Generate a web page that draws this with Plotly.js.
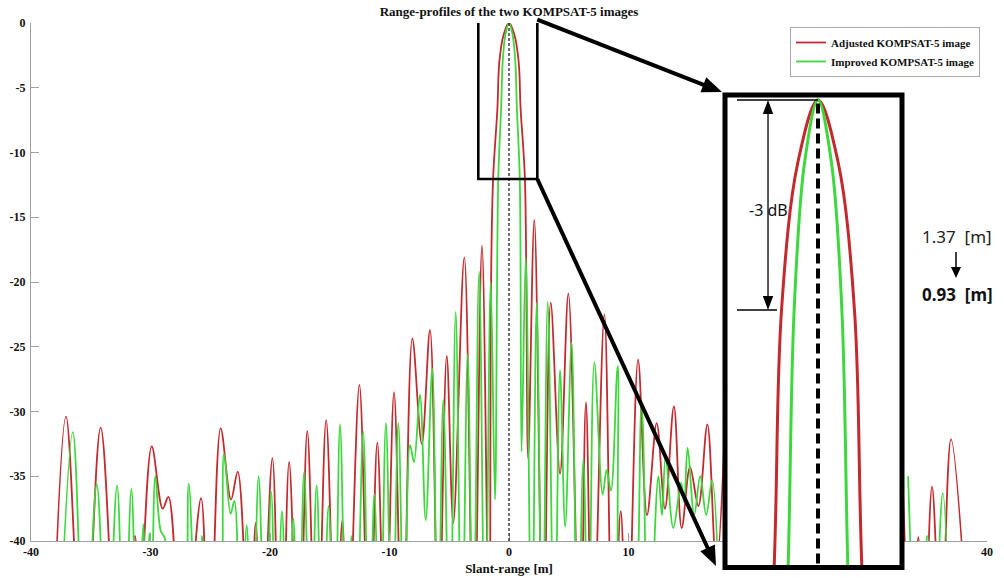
<!DOCTYPE html>
<html>
<head>
<meta charset="utf-8">
<script src="https://cdn.plot.ly/plotly-3.0.1.min.js"></script>
<style>
  html, body { margin: 0; padding: 0; background: #fff; }
  #chart { width: 1004px; height: 578px; }
</style>
</head>
<body>
<div id="chart"></div>
<script>
// ---- data (slant range [m], amplitude [dB]) ----
// null = part of the profile hidden behind the zoom inset
const adjustedX = [
  -38.3, -37.07, -35.6, -34.17, -32.6, -31.3, -31.0, -29.9, -28.98, -28.5, -27.3,
  -25.77, -25.1, -24.13, -23.26, -22.7, -21.7, -21.2, -20.7, -19.8, -19.1, -18.4,
  -17.6, -16.88, -16.1, -15.3, -14.5, -13.95, -13.5, -12.52, -11.7, -11.02, -10.35,
  -9.62, -8.9, -8.09, -7.3, -6.61, -5.9, -5.21, -4.66, -3.74, -2.95, -2.26, -1.65,
  -1.5, -1.33, -0.97, -0.81, -0.45, 0, 0.45, 0.81, 0.97, 1.33,
  1.6, 2.12, 2.87, 3.49, 4.27, 4.97, 5.94, 6.44, 7.0, 7.98, 8.7, 9.35, 9.9,
  10.8, 11.55, 12.36, 13.05, 13.8, 14.45, 15.15, 15.85, 16.6, 17.35, 18.2,
  25.0,
  32.8, 33.7, 34.25, 34.7, 35.4, 36.15, 36.99, 38.7
];
const adjustedY = [
  -52, -30.4, -52, -31.25, -52, -39.6, -48, -32.7, -37.5, -36.6, -50,
  -36.7, -52, -31.3, -36.8, -34.65, -50, -38.6, -50, -33.6, -55, -33.9,
  -52, -31.5, -52, -30.66, -50, -38.4, -50, -27.95, -50, -32.4, -50,
  -28.5, -50, -24.35, -32.5, -23.7, -48, -25.7, -38.6, -18.1, -50, -17.2, -50,
  -20, -12, -6.6, -3, -0.9, 0, -0.9, -3, -6.6, -12,
  -33.6, -15.2, -50, -21.6, -34.8, -20.9, -50, -29.3, -50, -22.5, -50, -37.7, -50,
  -26.0, -38, -30.9, -37.5, -29.6, -39, -34.3, -37.3, -31.0, -42, -28,
  null,
  -31, -50, -39.7, -50, -35.8, -48, -32.15, -52
];

const improvedX = [
  -37.8, -36.5, -35.5, -34.5, -33.65, -32.8, -32.2, -31.6, -31.1, -30.6, -30.35,
  -30.1, -29.9, -29.6, -29.15, -28.8, -28.5, -27.4, -26.8, -26.1, -25.7, -25.3,
  -24.6, -23.85, -23.3, -22.98, -22.45, -21.95, -21.5, -20.95, -20.4, -19.9, -19.45,
  -19.0, -18.5, -18.05, -17.6, -17.15, -16.6, -16.1, -15.6, -15.1, -14.6, -14.14,
  -13.6, -13.2, -12.8, -12.2, -11.7, -11.27, -10.8, -10.3, -9.78, -9.26, -8.75,
  -8.28, -7.95, -7.45, -6.97, -6.42, -5.95, -5.5, -4.95, -4.46, -3.95, -3.46,
  -3.0, -2.5, -2.0, -1.53, -1.17,
  -0.9, -0.66, -0.53, -0.3, 0, 0.3, 0.53, 0.66, 0.9,
  1.05, 1.4, 1.9, 2.32, 2.8, 3.24, 3.8, 4.27, 4.7, 5.24, 5.75, 6.22, 6.65,
  7.14, 7.84, 8.17, 8.53, 9.1, 9.65, 10.1, 11.1, 11.66, 12.5, 12.8, 13.1, 13.75,
  14.4, 14.65, 14.95, 15.5, 16.0, 16.5, 17.0, 17.6,
  25.0,
  33.4, 34.2, 35.0, 35.5, 36.3, 37.0
];
const improvedY = [
  -52, -31.6, -50, -35.6, -50, -35.7, -50, -36.0, -48, -38.7, -46,
  -39.4, -45, -35.0, -39.2, -39.8, -48, -50, -35.6, -50, -39.6, -50,
  -50, -33.3, -37.9, -36.9, -50, -38.8, -50, -35.0, -50, -36.2, -50,
  -37.7, -50, -38.25, -50, -34.7, -50, -35.7, -50, -37.3, -50, -31.0,
  -50, -39.6, -50, -31.56, -50, -36.4, -50, -30.9, -50, -30.9, -50,
  -32.6, -33.9, -28.7, -38.4, -26.7, -50, -29.1, -50, -22.3, -50, -25.6,
  -50, -19.2, -50, -20.0, -36.8,
  -12, -6.6, -3, -0.9, 0, -0.9, -3, -6.6, -12,
  -33.1, -18.1, -50, -21.6, -50, -21.5, -50, -26.8, -38.9, -24.7, -50, -33.75, -50,
  -26.2, -36.4, -34.5, -36.1, -26.5, -50, -50, -29.6, -50, -35.0, -38, -33.5, -39,
  -35.5, -37, -32.8, -38, -35.0, -38, -35.3, -45,
  null,
  -35.0, -50, -39.6, -50, -36.3, -52
];

const seriesNames = ['Adjusted KOMPSAT-5 image', 'Improved KOMPSAT-5 image'];
const seriesColors = ['#c22a2f', '#3ed83e'];
const xTicks = [-40, -30, -20, -10, 0, 10, 20, 30, 40];
const yTicks = [0, -5, -10, -15, -20, -25, -30, -35, -40];

// ---- layout geometry ----
const W = 1004, H = 578;
const M = {l: 31, r: 17, t: 23, b: 5};
const PW = W - M.l - M.r, PH = H - M.t - M.b;
const px = v => (v - M.l) / PW;          // pixel x -> paper x
const py = v => (H - M.b - v) / PH;      // pixel y -> paper y
const P = (x, y) => px(x).toFixed(5) + ',' + py(y).toFixed(5);

const serif = 'Liberation Serif, Times New Roman, serif';
const sans = 'Noto Sans, Open Sans, sans-serif';

const traces = [
  {x: adjustedX, y: adjustedY, name: seriesNames[0], type: 'scatter', mode: 'lines', connectgaps: false,
   line: {color: seriesColors[0], width: 1.8, shape: 'spline', smoothing: 1}, xaxis: 'x', yaxis: 'y'},
  {x: improvedX, y: improvedY, name: seriesNames[1], type: 'scatter', mode: 'lines', connectgaps: false,
   line: {color: seriesColors[1], width: 1.8, shape: 'spline', smoothing: 1}, xaxis: 'x', yaxis: 'y'},
  {x: adjustedX, y: adjustedY, name: seriesNames[0], type: 'scatter', mode: 'lines', showlegend: false,
   hoverinfo: 'skip', line: {color: seriesColors[0], width: 3, shape: 'spline', smoothing: 1}, xaxis: 'x2', yaxis: 'y2'},
  {x: improvedX, y: improvedY, name: seriesNames[1], type: 'scatter', mode: 'lines', showlegend: false,
   hoverinfo: 'skip', line: {color: seriesColors[1], width: 3, shape: 'spline', smoothing: 1}, xaxis: 'x2', yaxis: 'y2'}
];

// inset ranges (zoomed view of the main lobe)
const insetX = [-2.01, 1.81];
const insetY = [-6.643, 0.036];

// arrow helper (pixel coords) -> line + triangular head
function arrow(x0, y0, x1, y1, w, headLen, headHalf) {
  const dx = x1 - x0, dy = y1 - y0, L = Math.hypot(dx, dy);
  const ux = dx / L, uy = dy / L;
  const bx = x1 - ux * headLen, by = y1 - uy * headLen;
  const nx = -uy * headHalf, ny = ux * headHalf;
  return [
    {type: 'line', xref: 'paper', yref: 'paper', x0: px(x0), y0: py(y0), x1: px(bx + ux), y1: py(by + uy),
     line: {color: '#000', width: w}, layer: 'above'},
    {type: 'path', xref: 'paper', yref: 'paper', layer: 'above',
     path: 'M' + P(x1, y1) + ' L' + P(bx + nx, by + ny) + ' L' + P(bx - nx, by - ny) + ' Z',
     fillcolor: '#000', line: {color: '#000', width: 0}}
  ];
}

const shapes = [
  // white cover for inset area (drawn in inset subplot layer, above the main subplot)
  {type: 'rect', xref: 'x2', yref: 'y2', x0: insetX[0], x1: insetX[1], y0: insetY[0], y1: insetY[1],
   fillcolor: '#fff', line: {width: 0}, layer: 'below'},
  // centre dashed line in main plot
  {type: 'line', xref: 'x', yref: 'y', x0: 0, x1: 0, y0: 0, y1: -40,
   line: {color: '#333', width: 1.4, dash: '3px,2px'}, layer: 'above'},
  // zoom rectangle on main lobe
  {type: 'rect', xref: 'x', yref: 'y', x0: -2.57, x1: 2.37, y0: -12.05, y1: 0.25,
   line: {color: '#000', width: 2.6}, layer: 'above'},
  // centre dashed line in inset
  {type: 'line', xref: 'x2', yref: 'y2', x0: 0, x1: 0, y0: -0.05, y1: insetY[0],
   line: {color: '#000', width: 4, dash: '10px,5px'}, layer: 'above'},
  // inset border
  {type: 'rect', xref: 'paper', yref: 'paper', x0: px(725), x1: px(902), y0: py(567.5), y1: py(95),
   line: {color: '#000', width: 5}, layer: 'above'},
  // -3 dB markers (inset data coords)
  {type: 'line', xref: 'x2', yref: 'y2', x0: -1.8, x1: 0, y0: 0, y1: 0, line: {color: '#000', width: 1.3}, layer: 'above'},
  {type: 'line', xref: 'x2', yref: 'y2', x0: -1.8, x1: -0.91, y0: -3, y1: -3, line: {color: '#000', width: 1.3}, layer: 'above'},
  {type: 'line', xref: 'x2', yref: 'y2', x0: -1.11, x1: -1.11, y0: -0.15, y1: -2.85, line: {color: '#000', width: 1.3}, layer: 'above'},
  {type: 'path', xref: 'x2', yref: 'y2', layer: 'above', fillcolor: '#000', line: {width: 0},
   path: 'M -1.11,0 L -1.225,-0.2 L -0.995,-0.2 Z'},
  {type: 'path', xref: 'x2', yref: 'y2', layer: 'above', fillcolor: '#000', line: {width: 0},
   path: 'M -1.11,-3 L -1.225,-2.8 L -0.995,-2.8 Z'}
]
  .concat(arrow(537.3, 19.7, 722, 92, 4, 20, 8))
  .concat(arrow(537.3, 179, 716, 566, 4, 20, 8))
  .concat(arrow(956, 252, 956, 278, 1.5, 11, 5));

const annotations = [
  {xref: 'x2', yref: 'y2', x: -1.11, y: -1.57, text: '-3 dB', showarrow: false, xanchor: 'center', yanchor: 'middle',
   font: {family: sans, size: 16, color: '#111'}},
  {xref: 'paper', yref: 'paper', x: px(957), y: py(237), text: '1.37\u00a0\u00a0[m]', showarrow: false,
   xanchor: 'center', yanchor: 'middle', font: {family: sans, size: 17, color: '#222'}},
  {xref: 'paper', yref: 'paper', x: px(957), y: py(294), text: '<b>0.93\u00a0\u00a0[m]</b>', showarrow: false,
   xanchor: 'center', yanchor: 'middle', font: {family: sans, size: 17, color: '#111'}}
];

const axisCommon = {
  showgrid: false, zeroline: false, showline: true, linecolor: '#a0a0a0', linewidth: 1,
  ticks: 'inside', ticklen: 8, tickcolor: '#a0a0a0', tickwidth: 1,
  tickfont: {family: serif, size: 12, color: '#111', weight: 700}, fixedrange: true
};

const layout = {
  width: W, height: H, margin: M, paper_bgcolor: '#fff', plot_bgcolor: '#fff',
  showlegend: true,
  title: {text: '<b>Range-profiles of the two KOMPSAT-5 images</b>', x: px(509), xref: 'paper',
          y: 1 - 11 / H, yref: 'container', yanchor: 'middle', xanchor: 'center',
          font: {family: serif, size: 13, color: '#111'}},
  xaxis: Object.assign({}, axisCommon, {domain: [0, 1], range: [-40, 40], tickvals: xTicks,
          ticktext: xTicks.map(v => '<b>' + v + '</b>'), anchor: 'y',
          title: {text: '<b>Slant-range [m]</b>', font: {family: serif, size: 13, color: '#111'}, standoff: 5}}),
  yaxis: Object.assign({}, axisCommon, {domain: [py(541), 1], range: [-40, 0], tickvals: yTicks,
          ticktext: yTicks.map(v => '<b>' + v + '</b>'), anchor: 'x', ticklabelstandoff: 2}),
  xaxis2: {domain: [px(727.5), px(899.5)], range: insetX, anchor: 'y2', visible: false, fixedrange: true},
  yaxis2: {domain: [py(565), py(97.5)], range: insetY, anchor: 'x2', visible: false, fixedrange: true},
  legend: {x: px(980), xanchor: 'right', y: py(27), yanchor: 'top', bgcolor: '#fff',
           bordercolor: '#aaa', borderwidth: 1, tracegroupgap: 0, itemwidth: 30,
           font: {family: serif, size: 11, color: '#111', weight: 700}},
  shapes: shapes,
  annotations: annotations
};

Plotly.newPlot('chart', traces, layout, {displayModeBar: false, staticPlot: true});
</script>
</body>
</html>
